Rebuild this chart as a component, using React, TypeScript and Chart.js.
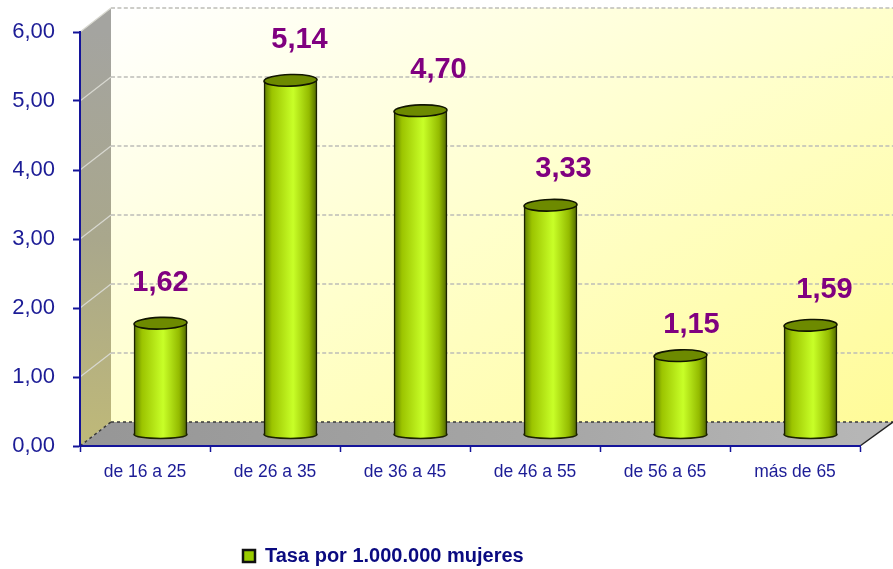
import React, { useEffect, useRef } from "react";
import { Chart, registerables } from "chart.js";

Chart.register(...registerables);

const categories = ["de 16 a 25", "de 26 a 35", "de 36 a 45", "de 46 a 55", "de 56 a 65", "más de 65"];
const tasa = [1.62, 5.14, 4.7, 3.33, 1.15, 1.59];
const yTicks = [0, 1, 2, 3, 4, 5, 6];
const seriesName = "Tasa por 1.000.000 mujeres";

const fmt = (v: number) => v.toFixed(2).replace(".", ",");
const FONT = '"Liberation Sans", Arial, sans-serif';
const NAVY = "#1c1c96";
const DEPTH_X = 31;
const DEPTH_Y = 24;
const BAR_DX = 15.5;
const BAR_DY = -11;
const BAR_W = 53;
const LABEL_NUDGE = [[0, -40], [9, -40], [18, -41], [13, -36], [11, -31], [14, -35]];

function cylGradient(ctx: CanvasRenderingContext2D, x: number) {
  const g = ctx.createLinearGradient(x - BAR_W / 2, 0, x + BAR_W / 2, 0);
  g.addColorStop(0, "#5d7a00");
  g.addColorStop(0.15, "#9cc400");
  g.addColorStop(0.55, "#c8ff28");
  g.addColorStop(0.85, "#94bb00");
  g.addColorStop(1, "#4f6600");
  return g;
}

const scenePlugin = {
  id: "scene",
  afterLayout(chart: any) {
    chart.legend.left = 233;
    chart.legend.right = 893;
    chart.legend.top = 536;
  },
  beforeDraw(chart: any) {
    const { ctx, scales } = chart;
    const y = scales.y;
    const x = scales.x;
    const L = x.left;
    const R = x.right;
    const B = y.bottom;
    const T = y.top;
    ctx.save();
    // back wall
    const w = ctx.createLinearGradient(L + DEPTH_X, T - DEPTH_Y, L + DEPTH_X + 342, T - DEPTH_Y + 648);
    w.addColorStop(0, "#ffffff");
    w.addColorStop(0.5, "#ffffcc");
    w.addColorStop(1, "#fffb98");
    ctx.fillStyle = w;
    ctx.fillRect(L + DEPTH_X, T - DEPTH_Y, R + DEPTH_X - (L + DEPTH_X) + 2, B - T);
    // side wall
    const s = ctx.createLinearGradient(L, B, L + DEPTH_X, T);
    s.addColorStop(0, "#bfb978");
    s.addColorStop(0.5, "#a9a78c");
    s.addColorStop(1, "#a4a4a0");
    ctx.fillStyle = s;
    ctx.beginPath();
    ctx.moveTo(L, B);
    ctx.lineTo(L, T);
    ctx.lineTo(L + DEPTH_X, T - DEPTH_Y);
    ctx.lineTo(L + DEPTH_X, B - DEPTH_Y);
    ctx.closePath();
    ctx.fill();
    // floor
    const f = ctx.createLinearGradient(L, B, R, B - DEPTH_Y);
    f.addColorStop(0, "#969696");
    f.addColorStop(0.6, "#a6a6a6");
    f.addColorStop(1, "#b6b6b6");
    ctx.fillStyle = f;
    ctx.beginPath();
    ctx.moveTo(L, B);
    ctx.lineTo(R, B);
    ctx.lineTo(R + DEPTH_X + 2, B - DEPTH_Y);
    ctx.lineTo(L + DEPTH_X, B - DEPTH_Y);
    ctx.closePath();
    ctx.fill();
    // grid
    for (const v of yTicks) {
      const py = y.getPixelForValue(v);
      if (v > 0) {
        ctx.setLineDash([]);
        ctx.strokeStyle = "#d8d8d0";
        ctx.lineWidth = 1.2;
        ctx.beginPath();
        ctx.moveTo(L, py);
        ctx.lineTo(L + DEPTH_X, py - DEPTH_Y);
        ctx.stroke();
        ctx.setLineDash([4, 2.4]);
        ctx.strokeStyle = "#bdbdb8";
        ctx.lineWidth = 1.6;
      } else {
        ctx.setLineDash([3, 3]);
        ctx.strokeStyle = "#3a3a3a";
        ctx.lineWidth = 1.5;
        ctx.beginPath();
        ctx.moveTo(L, py);
        ctx.lineTo(L + DEPTH_X, py - DEPTH_Y);
        ctx.stroke();
      }
      ctx.beginPath();
      ctx.moveTo(L + DEPTH_X, py - DEPTH_Y);
      ctx.lineTo(R + DEPTH_X + 2, py - DEPTH_Y);
      ctx.stroke();
    }
    // right floor edge
    ctx.setLineDash([]);
    ctx.strokeStyle = "#222222";
    ctx.lineWidth = 1.5;
    ctx.beginPath();
    ctx.moveTo(R, B);
    ctx.lineTo(R + DEPTH_X + 2, B - DEPTH_Y);
    ctx.stroke();
    ctx.restore();
  },
  beforeDatasetDraw(chart: any, args: any) {
    const { ctx } = chart;
    ctx.save();
    ctx.translate(BAR_DX, BAR_DY);
    args.meta.data.forEach((bar: any) => {
      ctx.beginPath();
      ctx.ellipse(bar.x, bar.base, BAR_W / 2, 4, 0, 0, Math.PI * 2);
      ctx.fillStyle = cylGradient(ctx, bar.x);
      ctx.fill();
      ctx.strokeStyle = "#1a2000";
      ctx.lineWidth = 1.6;
      ctx.stroke();
    });
  },
  afterDatasetDraw(chart: any, args: any) {
    const { ctx } = chart;
    args.meta.data.forEach((bar: any) => {
      ctx.beginPath();
      ctx.ellipse(bar.x, bar.y, BAR_W / 2, 5.8, -0.03, 0, Math.PI * 2);
      ctx.fillStyle = "#6d8a00";
      ctx.fill();
      ctx.strokeStyle = "#111500";
      ctx.lineWidth = 1.6;
      ctx.stroke();
    });
    ctx.restore();
  },
  afterDraw(chart: any) {
    const { ctx } = chart;
    const meta = chart.getDatasetMeta(0);
    ctx.save();
    ctx.fillStyle = "#800080";
    ctx.font = `bold 29px ${FONT}`;
    ctx.textAlign = "center";
    ctx.textBaseline = "middle";
    meta.data.forEach((bar: any, i: number) => {
      const [dx, dy] = LABEL_NUDGE[i];
      ctx.fillText(fmt(tasa[i]), bar.x + BAR_DX + dx, bar.y + BAR_DY + dy);
    });
    ctx.restore();
  },
};

export default function App() {
  const ref = useRef<HTMLCanvasElement>(null);
  useEffect(() => {
    const chart = new Chart(ref.current as HTMLCanvasElement, {
      type: "bar",
      plugins: [scenePlugin],
      data: {
        labels: categories,
        datasets: [
          {
            label: seriesName,
            data: tasa,
            clip: false,
            barThickness: BAR_W,
            backgroundColor: (c: any) => {
              const xs = c.chart.scales.x;
              if (!xs || c.dataIndex === undefined) return "#99cc00";
              return cylGradient(c.chart.ctx, xs.getPixelForValue(c.dataIndex));
            },
            borderColor: "#1a2000",
            borderWidth: { left: 1.6, right: 1.6, top: 0, bottom: 0 },
            borderSkipped: false,
          } as any,
        ],
      },
      options: {
        responsive: false,
        animation: false,
        layout: { padding: { left: 13, right: 33, top: 32, bottom: 0 } },
        plugins: {
          tooltip: { enabled: false },
          legend: {
            position: "bottom",
            align: "start",
            labels: {
              boxWidth: 12,
              boxHeight: 12,
              padding: 10,
              color: "#0a0a80",
              font: { family: FONT, size: 20, weight: "bold" },
              generateLabels: () => [
                {
                  text: seriesName,
                  fillStyle: "#99cc00",
                  strokeStyle: "#111111",
                  lineWidth: 2.5,
                  datasetIndex: 0,
                  fontColor: "#0a0a80",
                },
              ],
            },
          },
        },
        scales: {
          x: {
            grid: { drawOnChartArea: false, drawTicks: true, tickLength: 6, tickColor: "#14149a", tickWidth: 1.5 },
            border: { display: true, color: "#14149a", width: 2 },
            ticks: {
              color: NAVY,
              font: { family: FONT, size: 17.5 },
              padding: 10,
              maxRotation: 0,
              autoSkip: false,
            },
            afterFit: (s: any) => {
              s.height = 83;
            },
          },
          y: {
            min: yTicks[0],
            max: yTicks[yTicks.length - 1],
            afterBuildTicks: (s: any) => {
              s.ticks = yTicks.map((value) => ({ value }));
            },
            grid: { drawOnChartArea: false, drawTicks: true, tickLength: 7, tickColor: "#14149a", tickWidth: 2 },
            border: { display: true, color: "#14149a", width: 2 },
            ticks: {
              color: NAVY,
              font: { family: FONT, size: 22 },
              padding: 18,
              callback: (v: any) => fmt(Number(v)),
            },
            afterFit: (s: any) => {
              s.width = 67;
            },
          },
        },
      },
    } as any);
    return () => chart.destroy();
  }, []);
  return (
    <div style={{ position: "fixed", left: 0, top: 0, width: 893, height: 569, background: "#fff" }}>
      <canvas ref={ref} width={893} height={569} style={{ display: "block" }} />
    </div>
  );
}
